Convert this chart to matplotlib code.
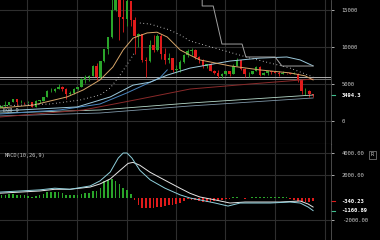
import numpy as np
import pandas as pd
import matplotlib
matplotlib.use("Agg")
import matplotlib.pyplot as plt
import matplotlib.dates as mdates

# weekly candles, first week 2017-05-15
opens = [1725, 2050, 2200, 2520, 2950, 2500, 2590, 2500, 2520, 1930, 2730, 2750, 3220, 4070, 4080, 4350,
         4580, 4330, 3680, 3780, 4360, 4610, 5700, 5930, 6140, 7400, 5950, 8040, 9700, 11300, 15000, 19100,
         14000, 13800, 16200, 13600, 11500, 11700, 8200, 8100, 10300, 9600, 11500, 9100, 8200, 8500, 6900,
         7000, 8000, 8900, 9400, 9600, 8700, 8200, 7400, 7650, 6800, 6500, 6100, 6400, 6750, 6350, 7400,
         8200, 7000, 6300, 6400, 6700, 7300, 6250, 6500, 6700, 6600, 6550, 6300, 6500, 6450, 6400, 6400,
         5600, 4000, 4100, 3600]
highs = [2190, 2760, 2560, 2980, 2980, 2780, 2600, 2660, 2530, 2900, 2800, 3290, 4200, 4490, 4460, 4980,
         4740, 4400, 4120, 4400, 4620, 5850, 6170, 6200, 7620, 7880, 8100, 9740, 11400, 16900, 19800, 19100,
         16500, 17200, 16200, 14000, 11900, 11800, 8700, 11000, 11600, 11700, 11700, 9900, 9200, 8500, 7500,
         8200, 9000, 9700, 9900, 9700, 8800, 8400, 7750, 7780, 6900, 6850, 6500, 6800, 6800, 7700, 8500,
         8200, 7150, 6600, 6800, 7400, 7400, 6600, 6800, 6800, 6700, 6700, 6800, 6550, 6450, 6600, 6500,
         5650, 4400, 4200, 3600]
lows = [1700, 1950, 2130, 2500, 2150, 2450, 2330, 2480, 1900, 1840, 2470, 2640, 3180, 3900, 3970, 4300,
        4040, 2980, 3570, 3700, 4150, 4600, 5100, 5400, 6100, 5550, 5850, 7980, 9000, 11200, 14800, 11000,
        12000, 12800, 12800, 9100, 10000, 8000, 6000, 8000, 9300, 9400, 8400, 7700, 7900, 6600, 6500,
        6600, 7900, 8700, 8900, 8400, 7900, 7100, 7200, 6700, 6300, 5800, 5800, 6200, 6100, 6300, 7400,
        6900, 5900, 5900, 6300, 6700, 6100, 6200, 6200, 6400, 6500, 6100, 6300, 6400, 6300, 6350, 5300,
        3600, 3550, 3300, 3250]
closes = [2050, 2200, 2520, 2950, 2500, 2590, 2500, 2520, 1930, 2730, 2750, 3220, 4070, 4080, 4350, 4580,
          4330, 3680, 3780, 4360, 4610, 5700, 5930, 6140, 7400, 5950, 8040, 9700, 11300, 15000, 19100, 14000,
          13800, 16200, 13600, 11500, 11700, 8200, 8100, 10300, 9600, 11500, 9100, 8200, 8500, 6900, 7000,
          8000, 8900, 9400, 9600, 8700, 8200, 7400, 7650, 6800, 6500, 6100, 6400, 6750, 6350, 7400, 8200,
          7000, 6300, 6400, 6700, 7300, 6250, 6500, 6700, 6600, 6550, 6300, 6500, 6450, 6400, 6400, 5600,
          4000, 4100, 3600, 3494.3]

# MACD histogram, one value per week
macd_hist = [250, 250, 300, 300, 250, 200, 200, 150, 100, 150, 250, 350, 500, 550, 550, 500, 400, 250, 200,
             200, 250, 350, 400, 450, 600, 600, 900, 1450, 1550, 1700, 1500, 1200, 900, 700, 300, -200, -650,
             -900, -950, -950, -900, -850, -850, -750, -700, -650, -600, -450, -300, -150, -200, -250, -300,
             -350, -400, -350, -300, -250, -200, -150, -100, 50, 100, -50, -80, -60, 40, 80, 60, 80, 100, 100,
             80, 80, 60, 40, -100, -250, -300, -400, -400, -380, -340]

# indicator lines, read at (week number, value)
orange_wk = [-0.4, 8.3, 17.2, 21.5, 25.9, 29.3, 32, 34.6, 38.3, 40.9, 43.6, 47, 49.6, 52.2, 60.1, 68, 75.9, 79.9, 82]
orange_val = [1750, 2150, 3250, 4200, 5550, 7300, 9600, 11200, 11900, 12000, 11350, 9600, 8900, 8250, 7450,
              6900, 6500, 6100, 5550]
cyan_wk = [-0.4, 19.9, 28.6, 34.6, 39.1, 43.6, 49.6, 60.1, 68, 75.1, 78.6, 82]
cyan_val = [1350, 1900, 3250, 4850, 5250, 6200, 7150, 8100, 8500, 8650, 8250, 7450]
blue_wk = [-0.4, 15.4, 25.9, 33, 38.3, 41.7, 43.6]
blue_val = [950, 1500, 2300, 3800, 5050, 5850, 6900]
darkred_wk = [-0.4, 21.5, 36.4, 49.6, 65.4, 82]
darkred_val = [540, 1490, 2970, 4320, 5000, 5670]
mint_wk = [-0.4, 25.9, 49.6, 82]
mint_val = [1080, 1490, 2430, 3510]
slate_wk = [-0.4, 25.9, 49.6, 82]
slate_val = [680, 1080, 2030, 3110]
sar_low_wk = [-0.4, 12.8, 20.7, 25.9, 28.6, 31.2, 33.8, 35.1]
sar_low_val = [2030, 2300, 2840, 3510, 4460, 6210, 8240, 9320]
sar_high_wk = [36.4, 39.1, 41.7, 44.3, 47, 49.6, 65.4, 75.9, 82]
sar_high_val = [13240, 13100, 12700, 12290, 11620, 10810, 8510, 7160, 5940]
step_wk = [52.8, 52.8, 55.7, 58, 63.3, 64.3, 72, 73.8, 82]
step_val = [17500, 15540, 15540, 10400, 10400, 8650, 8650, 7430, 7430]
level_lines = [5980, 5720]

macd_wk = [-0.4, 4.9, 10.1, 14, 18, 23.3, 25.9, 28.6, 30.7, 32, 33, 34.3, 36.4, 39.1, 43, 47, 49.6,
           52.2, 56.2, 59.6, 62.8, 66.7, 70.7, 75.9, 78.6, 80.7, 82]
macd_val = [500, 600, 700, 850, 750, 1050, 1500, 2300, 3550, 4000, 4000, 3550, 2450, 1600, 850, 250, -30,
            -200, -480, -750, -480, -480, -480, -390, -480, -840, -1160]
signal_wk = [-0.4, 4.9, 10.1, 14, 18, 23.3, 25.9, 28.6, 31.2, 33.3, 34.6, 36.4, 39.1, 43, 47, 49.6, 52.2,
             56.2, 60.1, 64.1, 68, 73.3, 78.6, 80.7, 82]
signal_val = [400, 500, 600, 750, 750, 950, 1230, 1680, 2450, 3070, 3160, 2900, 2270, 1560, 840, 390, 60,
              -200, -480, -390, -390, -390, -300, -570, -840]

dates = pd.date_range("2017-05-15", periods=len(closes), freq="7D")
x = mdates.date2num(dates)
x0 = x[0]


def wk(w):
    return x0 + np.asarray(w) * 7.0


BG = "black"
GRID = "#2e2e2e"
TXT = "#c8c8c8"
GREEN = "#2aa52a"
RED = "#e01b1b"
MONO = "DejaVu Sans Mono"

fig = plt.figure(figsize=(3.8, 2.4), dpi=100, facecolor=BG)
ax = fig.add_axes([0, 96 / 240, 331 / 380, 144 / 240], facecolor=BG)
ax2 = fig.add_axes([0, 0, 331 / 380, 96 / 240], facecolor=BG, sharex=ax)

xmin = mdates.date2num(pd.Timestamp("2017-05-12"))
xmax = mdates.date2num(pd.Timestamp("2019-01-12"))

for a in (ax, ax2):
    a.set_xlim(xmin, xmax)
    a.xaxis.set_major_locator(mdates.MonthLocator(bymonth=[1, 4, 7, 10]))
    a.grid(True, axis="x", color=GRID, lw=0.8)
    a.tick_params(axis="x", bottom=False, labelbottom=False)
    a.yaxis.tick_right()
    a.tick_params(axis="y", colors=TXT, labelsize=4, length=2.2, width=0.6, pad=5.5)
    for s in a.spines.values():
        s.set_visible(False)
    a.spines["right"].set_visible(True)
    a.spines["right"].set_color("#555555")
    a.spines["right"].set_linewidth(0.6)

# ---- price panel
ax.set_ylim(-3108, 16350)
ax.set_yticks([0, 5000, 10000, 15000])
ax.set_yticklabels(["0", "5000", "10000", "15000"], family=MONO)
ax.grid(True, axis="y", color=GRID, lw=0.8)
ax.spines["bottom"].set_visible(True)
ax.spines["bottom"].set_color("#555555")
ax.spines["bottom"].set_linewidth(0.8)

o = np.array(opens, float)
c = np.array(closes, float)
up = c >= o
cols = np.where(up, GREEN, RED)
ax.vlines(x, lows, highs, colors=cols, lw=0.6, zorder=3)
ax.bar(x, np.maximum(np.abs(c - o), 40), bottom=np.minimum(o, c), width=4.6, color=cols, lw=0, zorder=3)

for lv, lc in zip(level_lines, ["#b0b0b0", "#707070"]):
    ax.axhline(lv, color=lc, lw=0.7, zorder=2)

ax.plot(wk(slate_wk), slate_val, color="#7f97a8", lw=0.6, zorder=4)
ax.plot(wk(mint_wk), mint_val, color="#b8dccc", lw=0.6, zorder=4)
ax.plot(wk(darkred_wk), darkred_val, color="#8a2a2a", lw=0.7, zorder=4)
ax.plot(wk(blue_wk), blue_val, color="#4a86c0", lw=0.7, zorder=4)
ax.plot(wk(cyan_wk), cyan_val, color="#9cc9dc", lw=0.7, zorder=4)
ax.plot(wk(orange_wk), orange_val, color="#d7a66a", lw=0.7, zorder=4)
ax.plot(wk(sar_low_wk), sar_low_val, color="#dddddd", lw=0.7, ls=(0, (0.8, 2.8)), zorder=4)
ax.plot(wk(sar_high_wk), sar_high_val, color="#dddddd", lw=0.7, ls=(0, (0.8, 2.8)), zorder=4)
ax.plot(wk(step_wk), step_val, color="#a0a0a0", lw=0.7, zorder=4)

ax.text(0.008, 0.24, "EQB 9", transform=ax.transAxes, color=TXT, fontsize=3.8,
        family=MONO, va="center", zorder=6)

last = closes[-1]
ax.annotate(f"{last:.1f}", xy=(1, last), xycoords=("axes fraction", "data"),
            xytext=(8, 0), textcoords="offset points", color="white", fontsize=4,
            fontweight="bold", family=MONO, va="center", annotation_clip=False)
ax.plot([1.0, 1.011], [last, last], transform=ax.get_yaxis_transform(), color="#3fbf8f",
        lw=0.8, clip_on=False)

# ---- MACD panel
ax2.set_ylim(-3791, 4806)
ax2.set_yticks([4000, 2000, -2000])
ax2.set_yticklabels(["4000.00", "2000.00", "-2000.00"], family=MONO)
ax2.grid(True, axis="y", color=GRID, lw=0.8)

h = np.array(macd_hist, float)
ax2.bar(x, h, width=3.2, color=np.where(h >= 0, GREEN, RED), lw=0, zorder=3)
ax2.plot(wk(signal_wk), signal_val, color="#e6e6e6", lw=0.7, zorder=4)
ax2.plot(wk(macd_wk), macd_val, color="#8fd0dc", lw=0.7, zorder=4)

for val, mc in [(macd_hist[-1] - 0.23, RED), (macd_val[-1] - 0.89, "#3fbf8f")]:
    ax2.annotate(f"{val:.2f}", xy=(1, val), xycoords=("axes fraction", "data"),
                 xytext=(7.5, 0), textcoords="offset points", color="white", fontsize=4,
                 fontweight="bold", family=MONO, va="center", annotation_clip=False)
    ax2.plot([1.0, 1.011], [val, val], transform=ax2.get_yaxis_transform(), color=mc,
             lw=0.8, clip_on=False)

ax2.text(0.015, 0.88, "MACD(10,26,9)", transform=ax2.transAxes, color=TXT, fontsize=3.8,
         family=MONO, va="center")
fig.text(0.98, 1 - 155 / 240, "R", color=TXT, fontsize=3.8, ha="center", va="center",
         family=MONO, bbox=dict(boxstyle="square,pad=0.3", fc="none", ec="#888888", lw=0.5))

fig.savefig("out.png", dpi=100, facecolor=BG)
